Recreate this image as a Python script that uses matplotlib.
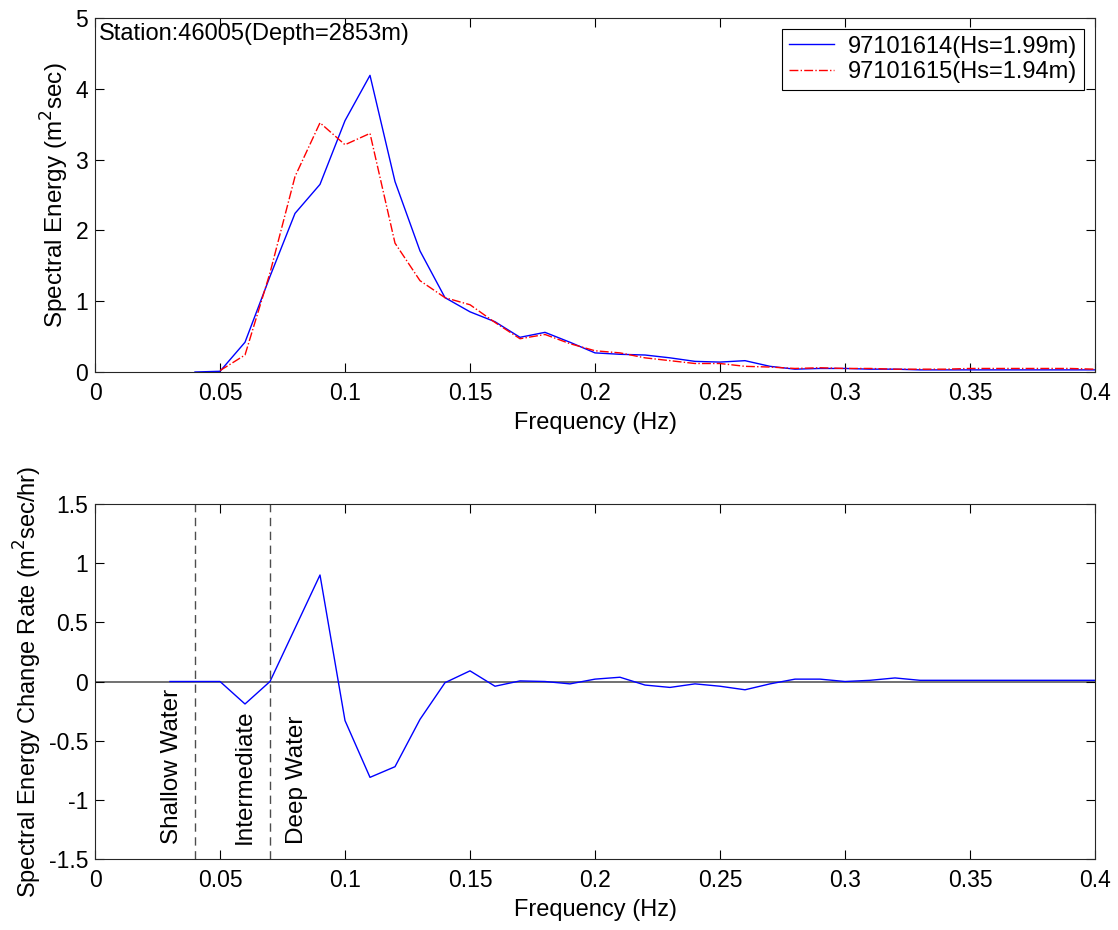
import numpy as np
import matplotlib
matplotlib.use("Agg")
import matplotlib.pyplot as plt

plt.rcParams['font.family'] = ['Liberation Sans', 'DejaVu Sans']
plt.rcParams['font.size'] = 17

# spectral energy (m^2 sec), frequencies 0.04 .. 0.40 Hz
freq_top = [0.04, 0.05, 0.06, 0.07, 0.08, 0.09, 0.10, 0.11, 0.12, 0.13,
            0.14, 0.15, 0.16, 0.17, 0.18, 0.19, 0.20, 0.21, 0.22, 0.23,
            0.24, 0.25, 0.26, 0.27, 0.28, 0.29, 0.30, 0.31, 0.32, 0.33,
            0.34, 0.35, 0.36, 0.37, 0.38, 0.39, 0.40]
energy_1614 = [0.0, 0.01, 0.42, 1.35, 2.24, 2.65, 3.55, 4.19, 2.69, 1.71,
               1.05, 0.85, 0.71, 0.49, 0.56, 0.42, 0.27, 0.25, 0.24, 0.20,
               0.15, 0.14, 0.16, 0.08, 0.04, 0.05, 0.05, 0.04, 0.04, 0.03,
               0.03, 0.03, 0.03, 0.03, 0.03, 0.03, 0.03]
energy_1615 = [None, 0.02, 0.24, 1.40, 2.76, 3.52, 3.21, 3.37, 1.82, 1.29,
               1.05, 0.95, 0.70, 0.47, 0.53, 0.40, 0.30, 0.27, 0.20, 0.16,
               0.12, 0.12, 0.08, 0.07, 0.05, 0.06, 0.05, 0.05, 0.04, 0.04,
               0.04, 0.05, 0.05, 0.05, 0.05, 0.05, 0.04]

# change rate (m^2 sec/hr), frequencies 0.03 .. 0.40 Hz
freq_bot = [0.03] + freq_top
change_rate = [0.0, 0.0, 0.0, -0.19, 0.0, 0.45, 0.90, -0.33, -0.81, -0.72,
               -0.32, -0.01, 0.09, -0.04, 0.005, 0.0, -0.02, 0.02, 0.036, -0.03,
               -0.05, -0.02, -0.04, -0.07, -0.02, 0.02, 0.02, 0.0, 0.01, 0.03,
               0.01, 0.01, 0.01, 0.01, 0.01, 0.01, 0.01, 0.01]

zone_bounds = [0.04, 0.07]
zone_labels = ["Shallow Water", "Intermediate", "Deep Water"]
zone_label_x = [0.031, 0.060, 0.081]

xtick_labels = ["0", "0.05", "0.1", "0.15", "0.2", "0.25", "0.3", "0.35", "0.4"]

e15 = np.array([np.nan if v is None else v for v in energy_1615])

fig = plt.figure(figsize=(11.18, 9.30), dpi=100)
ax1 = fig.add_axes([95 / 1118, 1 - 372 / 930, 1000 / 1118, 354 / 930])
ax2 = fig.add_axes([95 / 1118, 1 - 859 / 930, 1000 / 1118, 355 / 930])

ax1.plot(freq_top, energy_1614, color="#0000ff", lw=1.0, label="97101614(Hs=1.99m)")
ax1.plot(freq_top, e15, color="#ff0000", lw=1.0, linestyle="-.", label="97101615(Hs=1.94m)")
ax1.set_xlim(0, 0.4)
ax1.set_ylim(0, 5)
ax1.set_xticks(np.arange(0, 0.401, 0.05))
ax1.set_xticklabels(xtick_labels)
ax1.set_yticks([0, 1, 2, 3, 4, 5])
ax1.set_xlabel("Frequency (Hz)")
ax1.set_ylabel("Spectral Energy (m$^2$sec)", fontsize=17.5)
ax1.text(0.0015, 4.93, "Station:46005(Depth=2853m)", va="top", ha="left", fontsize=17)
leg = ax1.legend(loc="upper right", fancybox=False, framealpha=1, edgecolor="k",
                 borderaxespad=0.45, handlelength=1.9, handletextpad=0.6,
                 borderpad=0.3, labelspacing=0.15, fontsize=17)
leg.get_frame().set_linewidth(0.8)

ax2.axhline(0, color="0.35", lw=1.2, zorder=1)
ax2.plot(freq_bot, change_rate, color="#0000ff", lw=1.0, zorder=2)
for b in zone_bounds:
    ax2.axvline(b, color="0.3", lw=1.0, linestyle=(0, (6, 4)))
for x, lab in zip(zone_label_x, zone_labels):
    ax2.text(x, -1.37, lab, rotation=90, ha="center", va="bottom", fontsize=17.5)
ax2.set_xlim(0, 0.4)
ax2.set_ylim(-1.5, 1.5)
ax2.set_xticks(np.arange(0, 0.401, 0.05))
ax2.set_xticklabels(xtick_labels)
ax2.set_yticks([-1.5, -1, -0.5, 0, 0.5, 1, 1.5])
ax2.set_yticklabels(["-1.5", "-1", "-0.5", "0", "0.5", "1", "1.5"])
ax2.set_xlabel("Frequency (Hz)")
ax2.set_ylabel("Spectral Energy Change Rate (m$^2$sec/hr)")

for ax in (ax1, ax2):
    ax.tick_params(direction="in", top=True, right=True, length=6.5, width=0.8,
                   labelsize=16.5)
    ax.tick_params(axis="x", pad=7.5)
    ax.tick_params(axis="y", pad=5)
    for s in ax.spines.values():
        s.set_linewidth(0.8)
        s.set_color("0.15")
    ax.xaxis.labelpad = 5
    ax.yaxis.labelpad = 3

fig.savefig("out.png", dpi=100)
